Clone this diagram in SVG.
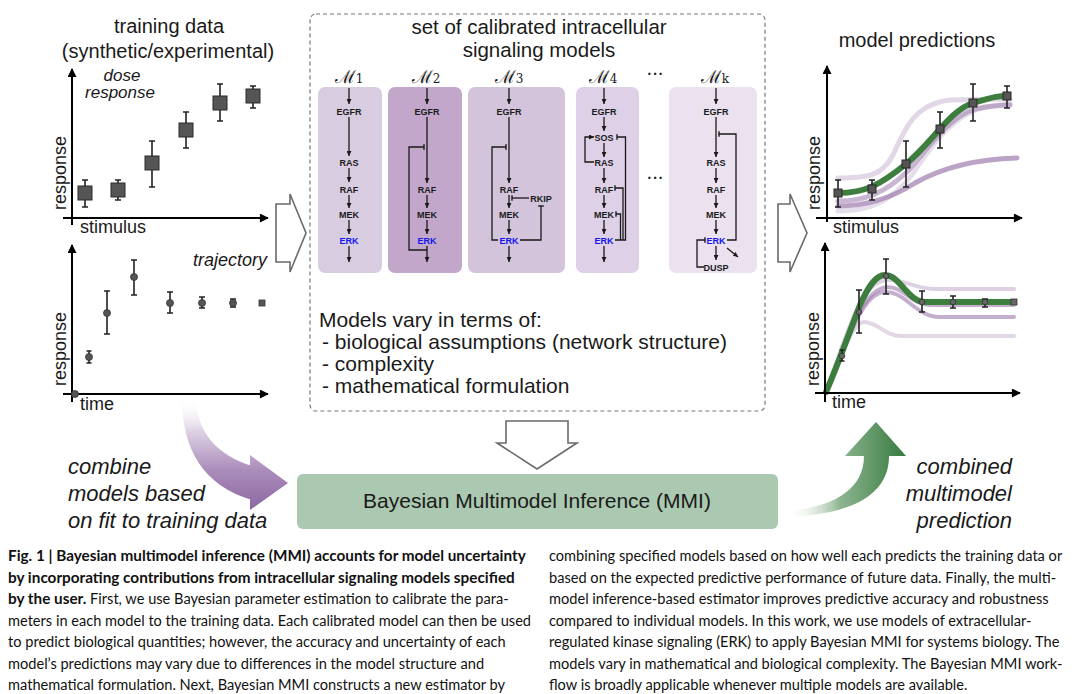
<svg xmlns="http://www.w3.org/2000/svg" width="1080" height="694" viewBox="0 0 1080 694">
<defs>
<style>
.t{font-family:"Liberation Sans",Arial,sans-serif;fill:#1a1a1a}
.ti{font-family:"Liberation Sans",Arial,sans-serif;font-style:italic;fill:#1a1a1a}
.nd{font-family:"Liberation Sans",Arial,sans-serif;font-weight:bold;font-size:9px;fill:#1a1a1a;text-anchor:middle}
.erk{fill:#1515f0}
.ml{font-family:"DejaVu Serif","Liberation Serif",serif;font-size:18px;fill:#1a1a1a;text-anchor:middle}
.ln{fill:none;stroke:#1a1a1a;stroke-width:1.3}
.ax{fill:none;stroke:#000;stroke-width:2}
.eb{fill:none;stroke:#222;stroke-width:1.6}
.sq{fill:#555;stroke:#2a2a2a;stroke-width:1}
.cap{font-family:Lato,"Open Sans",sans-serif;font-size:14.6px;fill:#111}
.capb{font-weight:bold;font-size:15.3px}
.holl{fill:#fff;stroke:#6a6a6a;stroke-width:1.6;stroke-linejoin:miter}
.pu{fill:none;stroke:#9d7cad;stroke-linecap:round}
</style>
<marker id="ah" viewBox="0 0 10 10" refX="10" refY="5" markerWidth="5" markerHeight="5" markerUnits="userSpaceOnUse" orient="auto"><path d="M0,0 L10,5 L0,10 z" fill="#1a1a1a"/></marker>
<marker id="tee" viewBox="0 0 2 8" refX="1" refY="4" markerWidth="1.4" markerHeight="6" markerUnits="userSpaceOnUse" orient="auto"><rect x="0" y="0" width="2" height="8" fill="#1a1a1a"/></marker>
<marker id="axh" viewBox="0 0 10 10" refX="9" refY="5" markerWidth="11" markerHeight="9" markerUnits="userSpaceOnUse" orient="auto"><path d="M0,0 L10,5 L0,10 z" fill="#000"/></marker>
<linearGradient id="gp" x1="0" y1="398" x2="0" y2="510" gradientUnits="userSpaceOnUse">
<stop offset="0" stop-color="#ffffff" stop-opacity="0"/>
<stop offset="0.3" stop-color="#ddd0e4"/>
<stop offset="0.65" stop-color="#aa8cba"/>
<stop offset="1" stop-color="#8c67a1"/>
</linearGradient>
<linearGradient id="gg" x1="786" y1="0" x2="906" y2="0" gradientUnits="userSpaceOnUse">
<stop offset="0" stop-color="#ffffff" stop-opacity="0"/>
<stop offset="0.45" stop-color="#8db591"/>
<stop offset="1" stop-color="#367a3e"/>
</linearGradient>
</defs>
<rect width="1080" height="694" fill="#fff"/>

<!-- Left: training data -->
<g id="training-data">
<text class="t" x="169" y="33" font-size="20" text-anchor="middle">training data</text>
<text class="t" x="168" y="58" font-size="20" text-anchor="middle">(synthetic/experimental)</text>
</g>
<g id="dose-response-plot">
<line class="ax" x1="72" y1="225" x2="72" y2="69" marker-end="url(#axh)"/>
<line class="ax" x1="63" y1="218" x2="268" y2="218" marker-end="url(#axh)"/>
<text class="t" x="80" y="233" font-size="18">stimulus</text>
<text class="t" font-size="18" text-anchor="middle" transform="translate(66,173) rotate(-90)">response</text>
<text class="ti" x="122" y="81" font-size="17" text-anchor="middle">dose</text>
<text class="ti" x="120" y="98" font-size="17" text-anchor="middle">response</text>
<path class="eb" d="M85,180V207M82,180h6M82,207h6 M118,180V200M115,180h6M115,200h6 M152,141V187M149,141h6M149,187h6 M186,112V148M183,112h6M183,148h6 M220,84V121M217,84h6M217,121h6 M253,86V108M250,86h6M250,108h6"/>
<rect class="sq" x="78" y="186" width="14" height="14"/>
<rect class="sq" x="111" y="183" width="14" height="14"/>
<rect class="sq" x="145" y="156" width="14" height="14"/>
<rect class="sq" x="179" y="123" width="14" height="14"/>
<rect class="sq" x="213" y="96" width="14" height="14"/>
<rect class="sq" x="246" y="89" width="14" height="14"/>
</g>
<g id="trajectory-plot">
<line class="ax" x1="72" y1="402" x2="72" y2="245" marker-end="url(#axh)"/>
<line class="ax" x1="63" y1="394" x2="268" y2="394" marker-end="url(#axh)"/>
<text class="t" x="80" y="410" font-size="18">time</text>
<text class="t" font-size="18" text-anchor="middle" transform="translate(66,349) rotate(-90)">response</text>
<text class="ti" x="267" y="266" font-size="18" text-anchor="end">trajectory</text>
<path class="eb" d="M89,351V363M86.5,351h5M86.5,363h5 M107,291V334M104,291h6M104,334h6 M134,260V295M131,260h6M131,295h6 M170,292V313M167,292h6M167,313h6 M202,297V308M199,297h6M199,308h6 M233,299V307M230,299h6M230,307h6"/>
<g fill="#555" stroke="#333" stroke-width="0.8">
<circle cx="75" cy="394" r="3.5"/>
<circle cx="89" cy="357" r="3.5"/>
<circle cx="107" cy="313" r="3.5"/>
<circle cx="134" cy="277" r="3.5"/>
<circle cx="170" cy="303" r="3.5"/>
<circle cx="202" cy="303" r="3.5"/>
<circle cx="233" cy="303" r="3.5"/>
<rect x="259" y="300" width="6" height="6"/>
</g>
</g>

<!-- Hollow arrows -->
<g id="arrow-left"><polygon class="holl" points="276,204 290,204 290,194 306,233 290,272 290,262 276,262"/></g>
<g id="arrow-right"><polygon class="holl" points="778,204 790,204 790,194 807,233 790,272 790,262 778,262"/></g>
<g id="arrow-down"><polygon class="holl" points="506,421 568,421 568,443 577,443 537,469 497,443 506,443"/></g>

<!-- Middle: models set -->
<g id="model-set">
<rect x="310" y="14" width="455" height="397" rx="6" fill="none" stroke="#777" stroke-width="1.2" stroke-dasharray="4,3"/>
<text class="t" x="539" y="34" font-size="20.5" text-anchor="middle">set of calibrated intracellular</text>
<text class="t" x="539" y="57" font-size="20.5" text-anchor="middle">signaling models</text>
<text class="ml" x="349" y="83">ℳ<tspan font-size="12">1</tspan></text>
<text class="ml" x="426" y="83">ℳ<tspan font-size="12">2</tspan></text>
<text class="ml" x="509" y="83">ℳ<tspan font-size="12">3</tspan></text>
<text class="ml" x="603" y="83">ℳ<tspan font-size="12">4</tspan></text>
<text class="ml" x="655" y="80">···</text>
<text class="ml" x="715" y="83">ℳ<tspan font-size="12">k</tspan></text>
<text class="ml" x="655" y="184">···</text>
<text class="t" x="319" y="327" font-size="21">Models vary in terms of:</text>
<text class="t" x="322" y="349" font-size="21"> - biological assumptions (network structure)</text>
<text class="t" x="322" y="371" font-size="21"> - complexity</text>
<text class="t" x="322" y="393" font-size="21"> - mathematical formulation</text>
</g>

<g id="model-M1">
<rect x="318" y="87" width="64" height="186" rx="7" fill="#d8cde0"/>
<text class="nd" x="349" y="114.5">EGFR</text>
<text class="nd" x="349" y="165.5">RAS</text>
<text class="nd" x="349" y="192.5">RAF</text>
<text class="nd" x="349" y="217.5">MEK</text>
<text class="nd erk" x="349" y="243.5">ERK</text>
</g>
<g id="model-M2">
<rect x="388" y="87" width="74" height="186" rx="7" fill="#c3a7cb"/>
<text class="nd" x="427" y="114.5">EGFR</text>
<text class="nd" x="427" y="192.5">RAF</text>
<text class="nd" x="427" y="217.5">MEK</text>
<text class="nd erk" x="427" y="243.5">ERK</text>
</g>
<g id="model-M3">
<rect x="468" y="87" width="97" height="186" rx="7" fill="#d3c4db"/>
<text class="nd" x="509" y="114.5">EGFR</text>
<text class="nd" x="509" y="192.5">RAF</text>
<text class="nd" x="509" y="217.5">MEK</text>
<text class="nd erk" x="509" y="243.5">ERK</text>
<text class="nd" x="541" y="201.5">RKIP</text>
</g>
<g id="model-M4">
<rect x="576" y="87" width="63" height="186" rx="7" fill="#ded1e7"/>
<text class="nd" x="604" y="114.5">EGFR</text>
<text class="nd" x="604" y="140.5">SOS</text>
<text class="nd" x="604" y="165.5">RAS</text>
<text class="nd" x="604" y="192.5">RAF</text>
<text class="nd" x="604" y="217.5">MEK</text>
<text class="nd erk" x="604" y="243.5">ERK</text>
</g>
<g id="model-Mk">
<rect x="669" y="87" width="88" height="186" rx="7" fill="#ebe1ef"/>
<text class="nd" x="716" y="114.5">EGFR</text>
<text class="nd" x="716" y="165.5">RAS</text>
<text class="nd" x="716" y="192.5">RAF</text>
<text class="nd" x="716" y="217.5">MEK</text>
<text class="nd erk" x="716" y="243.5">ERK</text>
<text class="nd" x="716" y="270.5">DUSP</text>
</g>

<g id="connectors">
<!-- M1 -->
<path class="ln" marker-end="url(#ah)" d="M349,88V104"/>
<path class="ln" marker-end="url(#ah)" d="M349,117V156"/>
<path class="ln" marker-end="url(#ah)" d="M349,168V182"/>
<path class="ln" marker-end="url(#ah)" d="M349,195V208"/>
<path class="ln" marker-end="url(#ah)" d="M349,220V234"/>
<path class="ln" marker-end="url(#ah)" d="M349,246V262"/>
<!-- M2 -->
<path class="ln" marker-end="url(#ah)" d="M427,88V104"/>
<path class="ln" marker-end="url(#ah)" d="M427,117V183"/>
<path class="ln" marker-end="url(#ah)" d="M427,195V208"/>
<path class="ln" marker-end="url(#ah)" d="M427,220V234"/>
<path class="ln" marker-end="url(#ah)" d="M427,246V262"/>
<path class="ln" marker-end="url(#tee)" d="M427,250H409V147H424"/>
<!-- M3 -->
<path class="ln" marker-end="url(#ah)" d="M509,88V104"/>
<path class="ln" marker-end="url(#ah)" d="M509,117V183"/>
<path class="ln" marker-end="url(#ah)" d="M509,195V208"/>
<path class="ln" marker-end="url(#ah)" d="M509,220V234"/>
<path class="ln" marker-end="url(#ah)" d="M509,246V262"/>
<path class="ln" marker-end="url(#tee)" d="M498,240H492V147H506"/>
<path class="ln" marker-end="url(#tee)" d="M529,198H512"/>
<path class="ln" marker-end="url(#tee)" d="M520,240H541V206"/>
<!-- M4 -->
<path class="ln" marker-end="url(#ah)" d="M604,88V104"/>
<path class="ln" marker-end="url(#ah)" d="M604,117V131"/>
<path class="ln" marker-end="url(#ah)" d="M604,143V157"/>
<path class="ln" marker-end="url(#ah)" d="M604,168V183"/>
<path class="ln" marker-end="url(#ah)" d="M604,195V208"/>
<path class="ln" marker-end="url(#ah)" d="M604,220V234"/>
<path class="ln" marker-end="url(#ah)" d="M604,246V262"/>
<path class="ln" marker-end="url(#ah)" d="M594,162H585V137H594"/>
<path class="ln" marker-end="url(#tee)" d="M615,240H625.5V137H617"/>
<path class="ln" marker-end="url(#tee)" d="M623,240V188H615"/>
<path class="ln" marker-end="url(#tee)" d="M620.5,240V214H616"/>
<!-- Mk -->
<path class="ln" marker-end="url(#ah)" d="M716,88V104"/>
<path class="ln" marker-end="url(#ah)" d="M716,117V157"/>
<path class="ln" marker-end="url(#ah)" d="M716,168V183"/>
<path class="ln" marker-end="url(#ah)" d="M716,195V208"/>
<path class="ln" marker-end="url(#ah)" d="M716,220V234"/>
<path class="ln" marker-end="url(#ah)" d="M716,246V260"/>
<path class="ln" marker-end="url(#tee)" d="M727,240H736V134H719"/>
<path class="ln" marker-end="url(#tee)" d="M704,267H697V240H705"/>
<path class="ln" marker-end="url(#ah)" d="M727,248L738,257"/>
</g>

<!-- Right: model predictions -->
<g id="model-predictions">
<text class="t" x="917" y="47" font-size="20" text-anchor="middle">model predictions</text>
</g>
<g id="prediction-dose-plot">
<path class="pu" stroke-width="5" opacity="0.3" d="M838,178 C868,178 882,176 893,155 C905,128 915,104 950,100 L1010,99"/>
<path class="pu" stroke-width="5" opacity="0.25" d="M838,211 C868,211 890,203 912,175 C935,140 955,114 985,107 L1010,104"/>
<path class="pu" stroke-width="5" opacity="0.55" d="M838,201 C865,201 885,193 908,171 C930,146 950,116 975,109 C990,106 1000,105 1010,105"/>
<path class="pu" stroke-width="5" opacity="0.7" d="M838,206 C870,206 895,196 915,183 C945,166 980,159 1017,158"/>
<path fill="none" stroke="#3d7e3f" stroke-width="6" stroke-linecap="round" d="M838,193 C865,193 880,185 906,164 C932,143 950,110 973,103 C996,96 1000,96 1007,96"/>
<line class="ax" x1="827" y1="222" x2="827" y2="66" marker-end="url(#axh)"/>
<line class="ax" x1="816" y1="218" x2="1022" y2="218" marker-end="url(#axh)"/>
<text class="t" x="833" y="233" font-size="18">stimulus</text>
<text class="t" font-size="18" text-anchor="middle" transform="translate(820,173) rotate(-90)">response</text>
<path class="eb" stroke-width="1.4" d="M838,180V207M835,180h6M835,207h6 M872,180V200M869,180h6M869,200h6 M906,141V187M903,141h6M903,187h6 M940,112V148M937,112h6M937,148h6 M973,84V121M970,84h6M970,121h6 M1007,86V108M1004,86h6M1004,108h6"/>
<rect class="sq" x="834" y="189" width="8" height="8"/>
<rect class="sq" x="868" y="185" width="8" height="8"/>
<rect class="sq" x="902" y="160" width="8" height="8"/>
<rect class="sq" x="936" y="125" width="8" height="8"/>
<rect class="sq" x="969" y="99" width="8" height="8"/>
<rect class="sq" x="1003" y="92" width="8" height="8"/>
</g>
<g id="prediction-trajectory-plot">
<path class="pu" stroke-width="4" opacity="0.3" d="M826,392 C840,360 852,322 864,322 C878,322 884,336 902,336 L1014,336"/>
<path class="pu" stroke-width="4" opacity="0.35" d="M826,392 C845,340 860,282 886,280 C905,279 915,289 935,289 L1014,289"/>
<path class="pu" stroke-width="4" opacity="0.6" d="M826,392 C845,350 860,294 884,292 C905,290 915,317 940,317 L1014,317"/>
<path class="pu" stroke-width="4" opacity="0.6" d="M826,392 C845,345 862,287 888,287 C905,288 912,305 930,305 L1014,305"/>
<path fill="none" stroke="#3d7e3f" stroke-width="6" stroke-linecap="round" d="M826,392 C840,360 850,330 860,305 C868,287 876,274 886,275 C900,276 908,302 925,302 L1014,302"/>
<line class="ax" x1="825" y1="402" x2="825" y2="243" marker-end="url(#axh)"/>
<line class="ax" x1="815" y1="393" x2="1020" y2="393" marker-end="url(#axh)"/>
<text class="t" x="832" y="408" font-size="18">time</text>
<text class="t" font-size="18" text-anchor="middle" transform="translate(819,349) rotate(-90)">response</text>
<path class="eb" stroke-width="1.4" d="M842,350V361M839.5,350h5M839.5,361h5 M859,290V333M856,290h6M856,333h6 M886,259V294M883,259h6M883,294h6 M922,291V312M919,291h6M919,312h6 M953,296V308M950,296h6M950,308h6 M985,299V307M982,299h6M982,307h6"/>
<g fill="#666" stroke="#333" stroke-width="0.8">
<circle cx="842" cy="356" r="2.8"/>
<circle cx="859" cy="312" r="2.8"/>
<circle cx="886" cy="276" r="2.8"/>
<circle cx="922" cy="302" r="2.8"/>
<circle cx="953" cy="302" r="2.8"/>
<circle cx="985" cy="302" r="2.8"/>
<rect x="1011" y="299" width="6" height="6"/>
</g>
</g>

<!-- Bottom -->
<g id="combine-arrow">
<path fill="url(#gp)" d="M182,398 C182,450 204,486 252,500 L252,466 C220,456 197,435 196,398 Z"/>
<polygon fill="url(#gp)" points="250,455 288,483 250,510"/>
</g>
<g id="combine-label">
<text class="ti" x="68" y="474" font-size="22">combine</text>
<text class="ti" x="68" y="501" font-size="22">models based</text>
<text class="ti" x="68" y="528" font-size="22">on fit to training data</text>
</g>
<g id="mmi">
<rect x="297" y="474" width="481" height="55" rx="6" fill="#abc9b0"/>
<text class="t" x="537" y="508" font-size="21" text-anchor="middle">Bayesian Multimodel Inference (MMI)</text>
</g>
<g id="prediction-arrow">
<path fill="url(#gg)" d="M786,517 C842,515 889,500 889,456 L864,456 C864,490 832,508 786,511 Z"/>
<polygon fill="url(#gg)" points="845,456 876,422 906,456"/>
</g>
<g id="prediction-label">
<text class="ti" x="1012" y="474" font-size="22" text-anchor="end">combined</text>
<text class="ti" x="1012" y="501" font-size="22" text-anchor="end">multimodel</text>
<text class="ti" x="1012" y="528" font-size="22" text-anchor="end">prediction</text>
</g>

<!-- Caption -->
<g id="caption">
<text class="cap capb" x="8" y="561">Fig. 1 | Bayesian multimodel inference (MMI) accounts for model uncertainty</text>
<text class="cap capb" x="8" y="582.5">by incorporating contributions from intracellular signaling models specified</text>
<text class="cap" x="8" y="604"><tspan class="capb">by the user.</tspan> First, we use Bayesian parameter estimation to calibrate the para-</text>
<text class="cap" x="8" y="625.5">meters in each model to the training data. Each calibrated model can then be used</text>
<text class="cap" x="8" y="647">to predict biological quantities; however, the accuracy and uncertainty of each</text>
<text class="cap" x="8" y="668.5">model’s predictions may vary due to differences in the model structure and</text>
<text class="cap" x="8" y="690">mathematical formulation. Next, Bayesian MMI constructs a new estimator by</text>
<text class="cap" x="549" y="561">combining specified models based on how well each predicts the training data or</text>
<text class="cap" x="549" y="582.5">based on the expected predictive performance of future data. Finally, the multi-</text>
<text class="cap" x="549" y="604">model inference-based estimator improves predictive accuracy and robustness</text>
<text class="cap" x="549" y="625.5">compared to individual models. In this work, we use models of extracellular-</text>
<text class="cap" x="549" y="647">regulated kinase signaling (ERK) to apply Bayesian MMI for systems biology. The</text>
<text class="cap" x="549" y="668.5">models vary in mathematical and biological complexity. The Bayesian MMI work-</text>
<text class="cap" x="549" y="690">flow is broadly applicable whenever multiple models are available.</text>
</g>
</svg>
